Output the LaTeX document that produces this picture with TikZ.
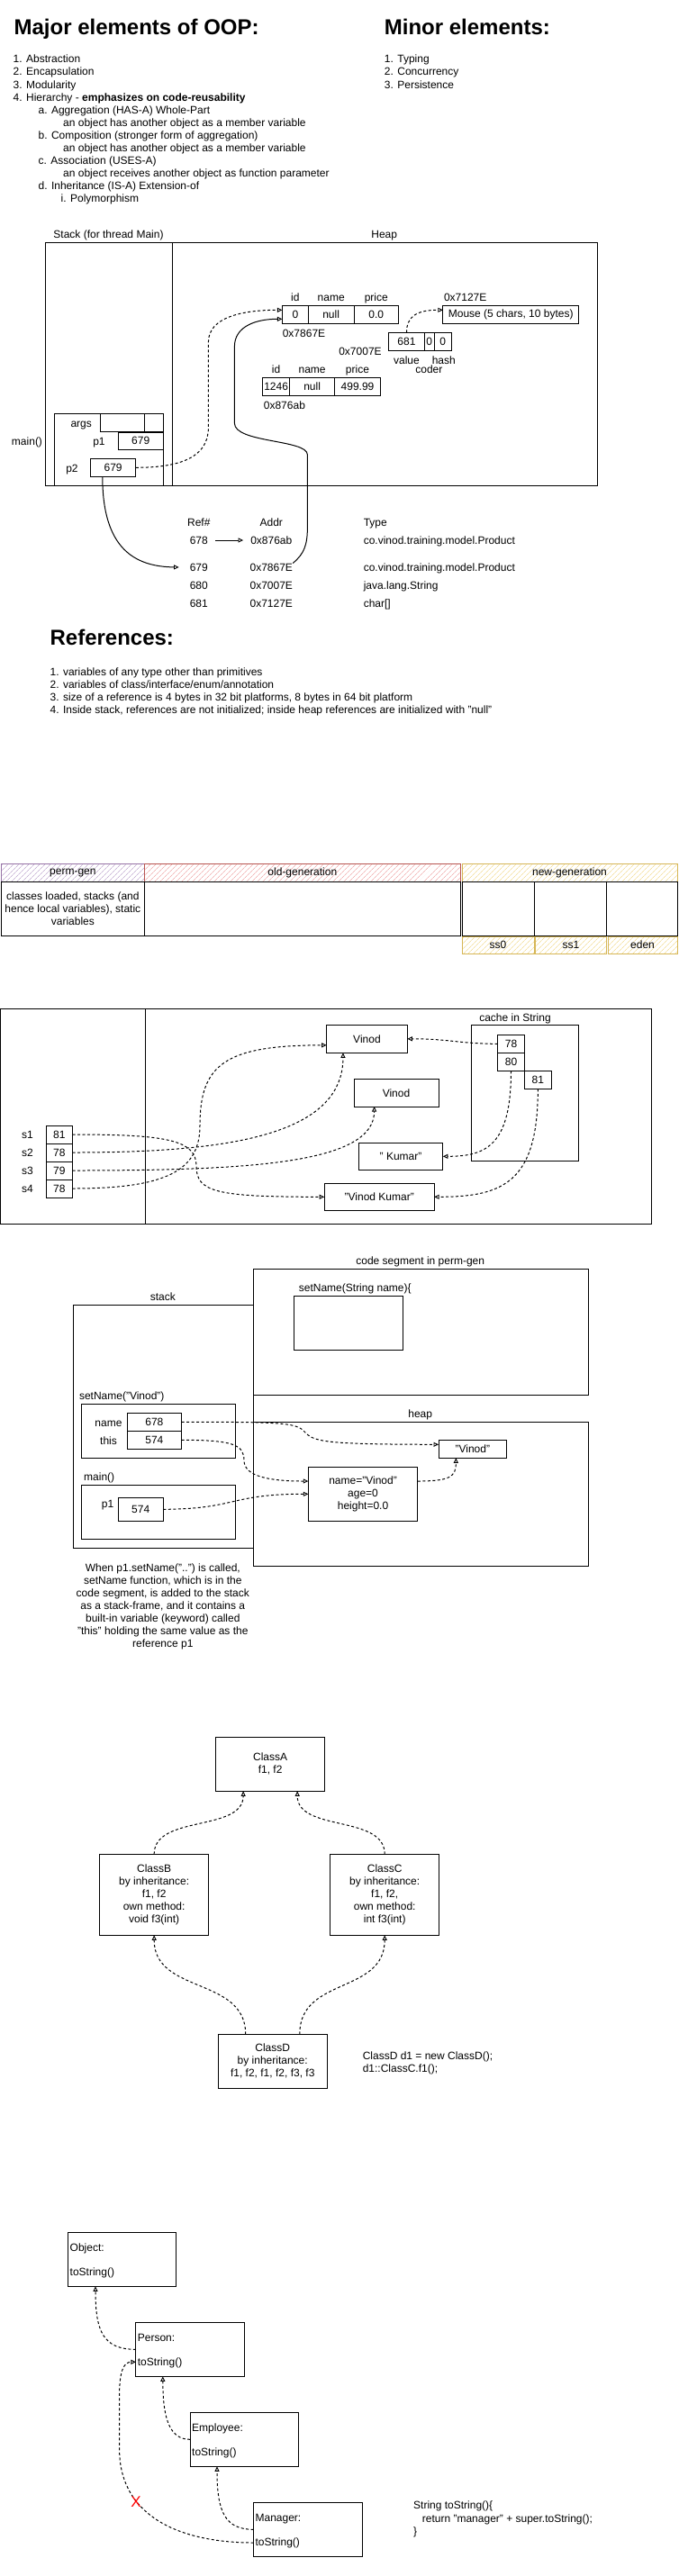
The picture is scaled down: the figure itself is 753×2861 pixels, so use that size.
\documentclass[tikz,border=0pt]{standalone}
\usepackage{fontspec}
\setmainfont{Liberation Sans}
\usetikzlibrary{arrows.meta,patterns.meta}
\definecolor{pgstroke}{HTML}{9673A6}
\definecolor{pghatch}{HTML}{C8B4D6}
\definecolor{ogstroke}{HTML}{B85450}
\definecolor{oghatch}{HTML}{F2B4B4}
\definecolor{ngstroke}{HTML}{D6B656}
\definecolor{nghatch}{HTML}{F4E0A0}
\newcommand{\rbox}[7][]{\node[cell,minimum width={(#5)-(#3)},minimum height={(#6)-(#4)},#1] (#2) at ({((#3)+(#5))/2},{((#4)+(#6))/2}) {#7};}
\begin{document}
\begin{tikzpicture}[x=1pt,y=-1pt,
  every node/.style={font=\fontsize{12}{14}\selectfont},
  lbl/.style={inner sep=0pt,text height=8.6pt,text depth=0pt},
  lt/.style={lbl,anchor=west},
  ttl/.style={inner sep=0pt,anchor=west,text height=17.2pt,text depth=0pt,font=\fontsize{24}{28}\selectfont\bfseries},
  cell/.style={draw,line width=1pt,inner sep=0pt,outer sep=0pt,align=center},
  con/.style={line width=1pt},
  dcon/.style={line width=1pt,dash pattern=on 3pt off 2.5pt},
  otip/.style={-{Triangle[open,length=5.5pt,width=5pt,line width=0.9pt]}},
  hatchbox/.style={cell,pattern={Lines[angle=45,distance=4pt,line width=0.7pt]}},
]
\fill[white] (0,0) rectangle (753,2861);
\useasboundingbox (0,0) rectangle (753,2861);

% ---------------- Section 1: lists
\node[ttl] (t1) at (15.4,30) {Major elements of OOP:};
\node[ttl] (t2) at (426.7,30) {Minor elements:};
\node[lt] (l1) at (14.5,65.7) {1. Abstraction};
\node[lt] (l2) at (14.5,79.7) {2. Encapsulation};
\node[lt] (l3) at (14.5,93.7) {3. Modularity};
\node[lt] (l4) at (14.5,107.7) {4. Hierarchy - \textbf{emphasizes on code-reusability}};
\node[lt] (l5) at (42.4,121.7) {a. Aggregation (HAS-A) Whole-Part};
\node[lt] (l6) at (70,135.7) {an object has another object as a member variable};
\node[lt] (l7) at (42.4,149.7) {b. Composition (stronger form of aggregation)};
\node[lt] (l8) at (70,163.7) {an object has another object as a member variable};
\node[lt] (l9) at (42.4,177.7) {c. Association (USES-A)};
\node[lt] (l10) at (70,191.7) {an object receives another object as function parameter};
\node[lt] (l11) at (42.4,205.7) {d. Inheritance (IS-A) Extension-of};
\node[lt] (l12) at (67.5,219.7) {i. Polymorphism};
\node[lt] (m1) at (426.7,65.7) {1. Typing};
\node[lt] (m2) at (426.7,79.7) {2. Concurrency};
\node[lt] (m3) at (426.7,93.7) {3. Persistence};

% ---------------- Section 2: stack / heap
\node[lbl] (stklbl) at (120.5,260) {Stack (for thread Main)};
\node[lbl] (heaplbl) at (426.7,260) {Heap};
\rbox{stack}{50.6}{269.3}{191.4}{539.3}{}
\rbox{heap}{191.4}{269.3}{663}{539.3}{}
% product 1
\rbox{pa}{313.4}{339.3}{342.3}{359.3}{0}
\rbox{pb}{342.3}{339.3}{393}{359.3}{null}
\rbox{pc}{393}{339.3}{442.6}{359.3}{0.0}
\node[lbl] (paL) at (327.9,330) {id};
\node[lbl] (pbL) at (367.7,330) {name};
\node[lbl] (pcL) at (417.8,330) {price};
\node[lbl] (pAddr) at (337.5,370) {0x7867E};
% string
\rbox{sa}{431.5}{369.3}{471.5}{389.3}{681}
\rbox{sb}{471.5}{369.3}{482}{389.3}{0}
\rbox{sc}{482}{369.3}{501.4}{389.3}{0}
\node[lbl] (sAddr) at (400,390) {0x7007E};
\node[lbl] (saL) at (451.5,400) {value};
\node[lbl] (scL) at (492.8,400) {hash};
\node[lbl] (sbL) at (476.4,410) {coder};
% char array
\rbox{mouse}{491.8}{339.3}{642.7}{359.3}{Mouse (5 chars, 10 bytes)}
\node[lt] (mAddr) at (492.8,330) {0x7127E};
% product 2
\rbox{qa}{291.7}{419.3}{321.6}{439.3}{1246}
\rbox{qb}{321.6}{419.3}{371.7}{439.3}{null}
\rbox{qc}{371.7}{419.3}{422.4}{439.3}{499.99}
\node[lbl] (qaL) at (306.6,410) {id};
\node[lbl] (qbL) at (346.6,410) {name};
\node[lbl] (qcL) at (397,410) {price};
\node[lt] (qAddr) at (292.7,450) {0x876ab};
% main frame
\rbox{mainf}{60.3}{459}{181.3}{539.3}{}
\node[lbl] (mainL) at (30,490) {main()};
\node[lbl] (argsL) at (90.2,470) {args};
\rbox{argsa}{111}{459.3}{160.6}{479.3}{}
\rbox{argsb}{160.6}{459.3}{181.3}{479.3}{}
\node[lbl] (p1L) at (110,490) {p1};
\rbox{p1v}{131.1}{480}{181.3}{499.3}{679}
\node[lbl] (p2L) at (80,520) {p2};
\rbox{p2v}{100.3}{509.3}{150.9}{529.3}{679}
% table
\node[lbl] (hRef) at (220.8,580) {Ref\#};
\node[lbl] (hAddr) at (301.3,580) {Addr};
\node[lt] (hType) at (403.6,580) {Type};
\node[lbl] (r678) at (220.8,600) {678};
\node[lbl] (a678) at (301.3,600) {0x876ab};
\node[lt] (t678) at (403.6,600) {co.vinod.training.model.Product};
\node[lbl] (r679) at (220.8,630) {679};
\node[lbl] (a679) at (301.3,630) {0x7867E};
\node[lt] (t679) at (403.6,630) {co.vinod.training.model.Product};
\node[lbl] (r680) at (220.8,650) {680};
\node[lbl] (a680) at (301.3,650) {0x7007E};
\node[lt] (t680) at (403.6,650) {java.lang.String};
\node[lbl] (r681) at (220.8,670) {681};
\node[lbl] (a681) at (301.3,670) {0x7127E};
\node[lt] (t681) at (403.6,670) {char[]};
% connectors
\draw[dcon,otip] (p2v.east) .. controls (200,519.3) and (231.4,508) .. (231.4,475) -- (231.4,380) .. controls (231.4,352) and (270,344.3) .. ([yshift=5pt]pa.west);
\draw[con,otip] ([xshift=-11.8pt]p2v.south) .. controls (113.8,610) and (150,629.3) .. ([xshift=-12pt]r679.west);
\draw[con,otip] (a679.north east) .. controls (338,615) and (341.4,605) .. (341.4,585) -- (341.4,505) .. controls (341.4,488) and (260.4,492) .. (260.4,470) -- (260.4,385) .. controls (260.4,362) and (285,354.3) .. ([yshift=-5pt]pa.west);
\draw[dcon,otip] (sa.north) .. controls (451.5,352) and (462,344.3) .. ([yshift=5pt]mouse.west);
\draw[con,otip] ([xshift=8pt]r678.east) -- ([xshift=-8pt]a678.west);

% references
\node[ttl] (t3) at (55.4,708.3) {References:};
\node[lt] (ref1) at (55.4,745.7) {1. variables of any type other than primitives};
\node[lt] (ref2) at (55.4,759.7) {2. variables of class/interface/enum/annotation};
\node[lt] (ref3) at (55.4,773.7) {3. size of a reference is 4 bytes in 32 bit platforms, 8 bytes in 64 bit platform};
\node[lt] (ref4) at (55.4,787.7) {4. Inside stack, references are not initialized; inside heap references are initialized with "null"};

% ---------------- Section 3: generations
\rbox[hatchbox,draw=pgstroke,pattern color=pghatch]{pgh}{1}{959.7}{160.7}{979.3}{perm-gen}
\rbox[hatchbox,draw=ogstroke,pattern color=oghatch]{ogh}{160.7}{959.7}{511}{979.3}{old-generation}
\rbox[hatchbox,draw=ngstroke,pattern color=nghatch]{ngh}{513}{959.7}{752}{979.3}{new-generation}
\rbox{pgb}{1}{979.3}{160.7}{1039}{classes loaded, stacks (and\\hence local variables), static\\variables}
\rbox{ogb}{160.7}{979.3}{511}{1039}{}
\rbox{n1b}{513}{979.3}{593}{1039}{}
\rbox{n2b}{593}{979.3}{673.5}{1039}{}
\rbox{n3b}{673.5}{979.3}{752}{1039}{}
\rbox[hatchbox,draw=ngstroke,pattern color=nghatch]{ss0}{513}{1040}{593}{1059}{ss0}
\rbox[hatchbox,draw=ngstroke,pattern color=nghatch]{ss1}{594.5}{1040}{673.5}{1059}{ss1}
\rbox[hatchbox,draw=ngstroke,pattern color=nghatch]{eden}{675}{1040}{752}{1059}{eden}

% ---------------- Section 4: string pool
\rbox{sl}{0.5}{1120}{161}{1359}{}
\rbox{sr}{161}{1120}{723.2}{1359}{}
\rbox{v1}{362.6}{1138.3}{452.3}{1169.3}{Vinod}
\rbox{v2}{393}{1198.7}{487}{1229}{Vinod}
\rbox{km}{398.3}{1269.3}{491.8}{1299.3}{" Kumar"}
\rbox{vk}{360.2}{1314.3}{482.2}{1344.3}{"Vinod Kumar"}
\rbox{cache}{523}{1138.3}{642.7}{1289.3}{}
\node[lbl] (cacheL) at (572,1130) {cache in String};
\rbox{c78}{552.6}{1149.3}{582.4}{1169.3}{78}
\rbox{c80}{552.6}{1169.3}{582.4}{1189.3}{80}
\rbox{c81}{582.4}{1189.3}{612.3}{1209.3}{81}
\node[lbl] (s1L) at (30.4,1260) {s1};
\node[lbl] (s2L) at (30.4,1280) {s2};
\node[lbl] (s3L) at (30.4,1300) {s3};
\node[lbl] (s4L) at (30.4,1320) {s4};
\rbox{s1v}{51.1}{1250}{80.5}{1270}{81}
\rbox{s2v}{51.1}{1270}{80.5}{1290}{78}
\rbox{s3v}{51.1}{1290}{80.5}{1310}{79}
\rbox{s4v}{51.1}{1310}{80.5}{1330}{78}
\draw[dcon,otip] (s1v.east) .. controls (185,1260) and (218,1266) .. (218,1295) .. controls (218,1324) and (240,1329.3) .. (vk.west);
\draw[dcon,otip] (s2v.east) .. controls (250,1280) and (381,1262) .. ([xshift=-26.5pt]v1.south);
\draw[dcon,otip] (s3v.east) .. controls (280,1300) and (415.6,1292) .. ([xshift=-24.4pt]v2.south);
\draw[dcon,otip] (s4v.east) .. controls (185,1320) and (222,1300) .. (222,1250) .. controls (222,1182) and (250,1161) .. ([yshift=-7pt]v1.west);
\draw[dcon,otip] (c78.west) .. controls (510,1159.3) and (500,1153.8) .. (v1.east);
\draw[dcon,otip] (c80.south) .. controls (567.5,1272) and (540,1284.3) .. (km.east);
\draw[dcon,otip] (c81.south) .. controls (597.3,1312) and (560,1329.3) .. (vk.east);

% ---------------- Section 5: setName
\node[lbl] (csL) at (466.7,1400.5) {code segment in perm-gen};
\rbox{cs}{281.6}{1409.3}{653.3}{1549.3}{}
\node[lt] (csinL) at (331.7,1430) {setName(String name)\{};
\rbox{csin}{326.9}{1439.3}{447.4}{1499.3}{}
\node[lbl] (stkL) at (180.8,1440) {stack};
\rbox{stk}{81}{1449.3}{281.6}{1719.3}{}
\node[lbl] (hpL) at (466.7,1570) {heap};
\rbox{hp}{281.6}{1579.3}{653.3}{1739.3}{}
\node[lt] (snL) at (87.8,1550) {setName("Vinod")};
\rbox{snf}{90.6}{1559.3}{261.3}{1619.3}{}
\node[lbl] (nmL) at (120.5,1580) {name};
\rbox{nmv}{141.3}{1569.3}{201.5}{1589.3}{678}
\node[lbl] (thL) at (120.5,1600) {this};
\rbox{thv}{141.3}{1589.3}{201.5}{1609.3}{574}
\node[lt] (mnL) at (93,1640) {main()};
\rbox{mnf}{90.6}{1649.3}{261.3}{1709.3}{}
\node[lbl] (p1bL) at (119.6,1670) {p1};
\rbox{p1b}{131.1}{1663.3}{181.3}{1689.3}{574}
\rbox{pobj}{342.3}{1629.3}{463.8}{1689.3}{name="Vinod"\\age=0\\height=0.0}
\rbox{vs}{487}{1599.3}{562.7}{1619.3}{"Vinod"}
\draw[dcon,otip] (nmv.east) .. controls (320,1579.3) and (330,1580) .. (340,1592) .. controls (350,1602) and (370,1604) .. ([yshift=5pt]vs.west);
\draw[dcon,otip] (thv.east) .. controls (260,1599.3) and (271,1605) .. (271,1622) .. controls (271,1640) and (300,1645) .. ([yshift=14.3pt]pobj.west);
\draw[dcon,otip] (p1b.east) .. controls (262,1676) and (255,1659.3) .. (pobj.west);
\draw[dcon,otip] ([yshift=14.3pt]pobj.east) .. controls (500,1645) and (506.3,1640) .. ([xshift=-18.5pt]vs.south);
\node[align=center,inner sep=0pt] (expl) at (180.8,1784.5) {When p1.setName("..") is called,\\setName function, which is in the\\code segment, is added to the stack\\as a stack-frame, and it contains a\\built-in variable (keyword) called\\"this" holding the same value as the\\reference p1};

% ---------------- Section 6: diamond
\rbox{ca}{239.6}{1929.3}{360.7}{1989.3}{ClassA\\f1, f2}
\rbox{cb}{110.9}{2059.3}{231.4}{2149.3}{ClassB\\by inheritance:\\f1, f2\\own method:\\void f3(int)}
\rbox{cc}{366.9}{2059.3}{487.5}{2149.3}{ClassC\\by inheritance:\\f1, f2,\\own method:\\int f3(int)}
\rbox{cd}{242.5}{2259.3}{363}{2319.3}{ClassD\\by inheritance:\\f1, f2, f1, f2, f3, f3}
\node[lt] (code1) at (402.6,2283.3) {ClassD d1 = new ClassD();};
\node[lt] (code2) at (402.6,2297.3) {d1::ClassC.f1();};
\draw[dcon,otip] (cb.north) .. controls (171.2,2015) and (270,2035) .. ([xshift=-30pt]ca.south);
\draw[dcon,otip] (cc.north) .. controls (427.2,2015) and (330.3,2035) .. ([xshift=30pt]ca.south);
\draw[dcon,otip] ([xshift=-30pt]cd.north) .. controls (272.7,2195) and (171.2,2215) .. (cb.south);
\draw[dcon,otip] ([xshift=30pt]cd.north) .. controls (332.7,2195) and (427.2,2215) .. (cc.south);

% ---------------- Section 7: toString chain
\rbox{ob}{75.7}{2479.3}{195.8}{2539.3}{}
\node[lt] (obt1) at (77.5,2495.7) {Object:};
\node[lt] (obt2) at (77.5,2523.3) {toString()};
\rbox{pe}{150.9}{2579.3}{271.5}{2639.3}{}
\node[lt] (pet1) at (152.7,2595.7) {Person:};
\node[lt] (pet2) at (152.7,2623.3) {toString()};
\rbox{em}{211.2}{2679.3}{331.7}{2739.3}{}
\node[lt] (emt1) at (213,2695.7) {Employee:};
\node[lt] (emt2) at (213,2723.3) {toString()};
\rbox{mg}{281.6}{2779.3}{402.1}{2839.3}{}
\node[lt] (mgt1) at (283.4,2795.7) {Manager:};
\node[lt] (mgt2) at (283.4,2823.3) {toString()};
\node[lt] (ts1) at (459,2782.3) {String toString()\{};
\node[lt] (ts2) at (468.7,2796.7) {return "manager" + super.toString();};
\node[lt] (ts3) at (459,2810.7) {\}};
\draw[dcon,otip] (pe.west) .. controls (115,2609.3) and (106,2590) .. ([xshift=-29.75pt]ob.south);
\draw[dcon,otip] (em.west) .. controls (190,2709.3) and (180.8,2690) .. ([xshift=-30.4pt]pe.south);
\draw[dcon,otip] (mg.west) .. controls (250,2809.3) and (241,2790) .. ([xshift=-30.45pt]em.south);
\draw[dcon,otip] ([yshift=-14.7pt]mg.west) .. controls (200,2824) and (132.6,2795) .. (132.6,2720) -- (132.6,2660) .. controls (132.6,2632) and (138,2623.3) .. ([yshift=-14pt]pe.west);
\node[inner sep=0pt,text=red,font=\fontsize{17}{20}\selectfont] (redx) at (151,2778.3) {X};
\end{tikzpicture}
\end{document}
